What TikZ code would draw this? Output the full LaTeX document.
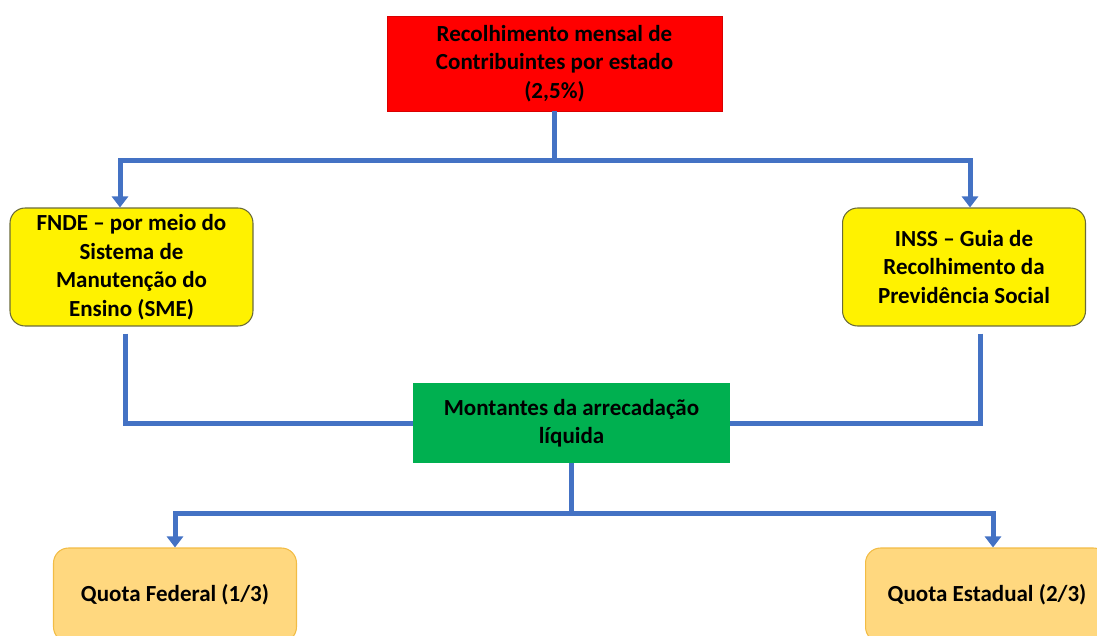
\documentclass[tikz,border=0pt]{standalone}
\usepackage{fontspec}
\setmainfont{Carlito}
\usetikzlibrary{arrows.meta,calc}
\definecolor{linkblue}{HTML}{4472C4}
\definecolor{boxgreen}{HTML}{00B050}
\definecolor{quotafill}{HTML}{FFD87F}
\definecolor{quotaline}{HTML}{F2BC45}
\definecolor{guideline}{HTML}{6B6B3A}
\begin{document}
\begin{tikzpicture}[x=0.02cm, y=-0.02cm,
   every node/.style={font=\bfseries\fontsize{13.1}{16.2}\selectfont, align=center, inner sep=0pt},
   topbox/.style={draw=red!85!black, fill=red, minimum width=6.7cm, minimum height=1.9cm},
   guidebox/.style={draw=guideline, line width=0.6pt, fill=yellow, rounded corners=0.3cm,
                    minimum width=4.86cm, minimum height=2.36cm},
   sumbox/.style={fill=boxgreen, minimum width=6.34cm, minimum height=1.6cm},
   quotabox/.style={draw=quotaline, line width=0.6pt, fill=quotafill, rounded corners=0.3cm,
                    minimum width=4.86cm, minimum height=1.88cm},
   link/.style={draw=linkblue, line width=0.1cm},
   feed/.style={link, -{Triangle[width=0.32cm,length=0.22cm]}}]

\useasboundingbox (0,0) rectangle (1097,635);

\node[topbox] (recolh) at (554.5,63.5) {Recolhimento mensal de\\Contribuintes por estado\\(2,5\%)};

\node[guidebox] (fnde) at (131.5,267) {FNDE -- por meio do\\Sistema de\\Manutenção do\\Ensino (SME)};
\node[guidebox] (inss) at (964,267) {INSS -- Guia de\\Recolhimento da\\Previdência Social};

\node[sumbox] (montantes) at (571.5,423) {Montantes da arrecadação\\líquida};

\node[quotabox] (fedq) at (175,595) {Quota Federal (1/3)};
\node[quotabox] (estq) at (987,595) {Quota Estadual (2/3)};

% upper split
\coordinate (splitA) at (554.5,160);
\draw[link] (recolh) -- (splitA);
\draw[feed] (splitA) -| ($(fnde.north)+(-11.5,0)$);
\draw[feed] (splitA) -| ($(inss.north)+(6,0)$);

% join into the net amount
\draw[link] ($(fnde.south)+(-6.5,7)$) |- (montantes.west);
\draw[link] ($(inss.south)+(16,7)$) |- (montantes.east);

% lower split
\coordinate (splitB) at (571.5,513);
\draw[link] (montantes) -- (splitB);
\draw[feed] (splitB) -| (fedq.north);
\draw[feed] (splitB) -| ($(estq.north)+(6,0)$);

\end{tikzpicture}
\end{document}
